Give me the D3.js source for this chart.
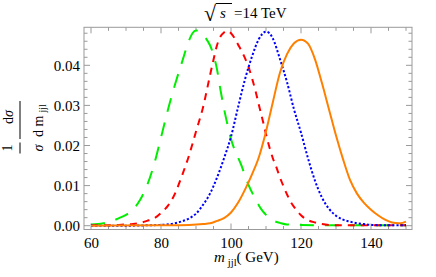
<!DOCTYPE html>
<html><head><meta charset="utf-8">
<script src="https://cdn.jsdelivr.net/npm/d3@7"></script>
<style>
html,body{margin:0;padding:0;background:#fff;}
svg{display:block;}
</style></head>
<body>
<svg id="chart" width="436" height="277"></svg>
<script>
// ---- data ----
const xGreen = [60,62,64,66,68,70,72,74,76,78,80,82,84,86,88,89,90,91,92,93,94,95,96,97,98,99,100,101,102,103,104,105,106,107,108,109,110,112,114,116,120,130,140,150];
const yGreen = [0.0003,0.0004,0.0007,0.0011,0.0019,0.0027,0.0040,0.0064,0.0100,0.0152,0.0220,0.0290,0.0352,0.0408,0.0462,0.0480,0.0487,0.0484,0.0476,0.0465,0.0450,0.0426,0.0390,0.0338,0.0292,0.0252,0.0216,0.0190,0.0170,0.0150,0.0125,0.0102,0.0083,0.0066,0.0050,0.0037,0.0027,0.0013,0.0007,0.0003,0.0002,0.0001,0.0001,0.0001];

const xRed = [60,64,68,70,72,74,76,78,80,82,84,86,88,90,92,94,95,96,97,98,99,100,101,102,103,104,105,106,107,108,109,110,111,112,113,114,115,116,117,118,119,120,122,124,126,128,132,150];
const yRed = [0.0001,0.0001,0.0002,0.0003,0.0004,0.0007,0.0012,0.0018,0.0032,0.0050,0.0080,0.0125,0.0175,0.0235,0.0295,0.0375,0.0414,0.0450,0.0472,0.0482,0.0486,0.0480,0.0468,0.0452,0.0436,0.0418,0.0396,0.0368,0.0336,0.0300,0.0265,0.0228,0.0195,0.0167,0.0145,0.0120,0.0098,0.0078,0.0060,0.0047,0.0036,0.0026,0.0014,0.0008,0.0004,0.0002,0.0001,0.0001];

const xBlue = [60,70,76,80,84,86,88,90,92,94,96,98,100,102,104,106,108,110,111,112,114,116,118,120,122,124,126,128,130,132,134,136,138,140,145,150];
const yBlue = [0.0000,0.0000,0.0001,0.0002,0.0006,0.0011,0.0018,0.0030,0.0052,0.0080,0.0120,0.0168,0.0222,0.0295,0.0365,0.0422,0.0466,0.0484,0.0480,0.0466,0.0415,0.0358,0.0290,0.0232,0.0168,0.0112,0.0070,0.0042,0.0025,0.0015,0.0010,0.0006,0.0004,0.0002,0.0001,0.0001];

const xOrange = [60,80,88,92,94,96,98,100,102,104,106,108,110,112,114,116,118,120,122,124,126,128,130,132,134,136,138,140,142,144,146,148,149,150];
const yOrange = [0.0000,0.0001,0.0002,0.0004,0.0006,0.0012,0.0019,0.0033,0.0057,0.0090,0.0128,0.0172,0.0235,0.0310,0.0382,0.0428,0.0455,0.0464,0.0454,0.0415,0.0355,0.0290,0.0225,0.0166,0.0114,0.0080,0.0057,0.0040,0.0026,0.0015,0.0008,0.0006,0.0007,0.0010];

const xTicks = [60,80,100,120,140];
const yTicks = [0.00,0.01,0.02,0.03,0.04];
const yTickLabels = ["0.00","0.01","0.02","0.03","0.04"];

const seriesColors = ["#00ee00","#ff0000","#0000ff","#ff8000"];
const seriesDash = ["14,11","7,6","2.2,2","none"];

// ---- layout ----
const FONT = '"Liberation Serif", "Times New Roman", serif';
const L = 84, R = 412, T = 27.3, B = 229.5;
const x = d3.scaleLinear().domain([58, 151.71]).range([L, R]);
const y = d3.scaleLinear().domain([-0.00095, 0.04948]).range([B, T]);

const svg = d3.select("#chart");
const frameColor = "#9a9a9a";

svg.append("defs").append("clipPath").attr("id","clip")
  .append("rect").attr("x",L).attr("y",T).attr("width",R-L).attr("height",B-T);

// ticks
const minorX = d3.range(60, 151, 5);
const minorY = d3.range(0, 0.0495, 0.002);
const tg = svg.append("g").attr("stroke", frameColor).attr("stroke-width", 1);
minorX.forEach(v => {
  const major = xTicks.includes(v);
  const len = major ? 6 : 3.5;
  tg.append("line").attr("x1", x(v)).attr("x2", x(v)).attr("y1", B).attr("y2", B - len);
  tg.append("line").attr("x1", x(v)).attr("x2", x(v)).attr("y1", T).attr("y2", T + len);
});
minorY.forEach(v => {
  const major = yTicks.some(t => Math.abs(t - v) < 1e-9);
  const len = major ? 6 : 3.5;
  tg.append("line").attr("y1", y(v)).attr("y2", y(v)).attr("x1", L).attr("x2", L + len);
  tg.append("line").attr("y1", y(v)).attr("y2", y(v)).attr("x1", R).attr("x2", R - len);
});

// frame
svg.append("rect").attr("x",L).attr("y",T).attr("width",R-L).attr("height",B-T)
  .attr("fill","none").attr("stroke",frameColor).attr("stroke-width",1);

// tick labels via axes (no lines)
const xAxis = d3.axisBottom(x).tickValues(xTicks).tickSize(0).tickPadding(0).tickFormat(d3.format("d"));
const gx = svg.append("g").attr("transform",`translate(0,${B})`).call(xAxis);
gx.select(".domain").remove();
gx.selectAll("text").attr("font-size",15).style("font-family",FONT).attr("dy",null).attr("y",18.5).attr("fill","#000");

const yAxis = d3.axisLeft(y).tickValues(yTicks).tickSize(0).tickPadding(0).tickFormat((d,i)=>yTickLabels[i]);
const gy = svg.append("g").attr("transform",`translate(${L-4},0)`).call(yAxis);
gy.select(".domain").remove();
gy.selectAll("text").attr("font-size",15).style("font-family",FONT).attr("dy","0.34em").attr("fill","#000");

// curves
const lineGen = d3.line().x(d=>x(d[0])).y(d=>y(d[1])).curve(d3.curveMonotoneX);
const allSeries = [d3.zip(xGreen,yGreen), d3.zip(xRed,yRed), d3.zip(xBlue,yBlue), d3.zip(xOrange,yOrange)];
const cg = svg.append("g").attr("clip-path","url(#clip)");
allSeries.forEach((s,i)=>{
  cg.append("path").attr("d", lineGen(s)).attr("fill","none")
    .attr("stroke", seriesColors[i]).attr("stroke-width", 2)
    .attr("stroke-dasharray", seriesDash[i]);
});

function txt(parent){ return parent.append("text").style("font-family",FONT).attr("fill","#000"); }

// title: sqrt(s) = 14 TeV
const title = svg.append("g");
txt(title).attr("x",204).attr("y",21).attr("font-size",22).text("√");
title.append("line").attr("x1",216).attr("x2",232).attr("y1",3.5).attr("y2",3.5).attr("stroke","#000").attr("stroke-width",1);
txt(title).attr("x",220).attr("y",18).attr("font-size",15).attr("font-style","italic").text("s");
txt(title).attr("x",234).attr("y",18).attr("font-size",15).text("=14");
txt(title).attr("x",261).attr("y",18).attr("font-size",15).text("TeV");

// x label
const xl = txt(svg).attr("x",214).attr("y",262).attr("font-size",15);
xl.append("tspan").attr("font-style","italic").text("m");
xl.append("tspan").attr("font-size",10.5).attr("dy",4).attr("dx",3).text("jjl");
xl.append("tspan").attr("dy",-4).text("( GeV)");

// y label (rotated)
const yl = svg.append("g").attr("transform","rotate(-90)");
txt(yl).attr("x",-148).attr("y",12).attr("text-anchor","middle").attr("font-size",14).text("1");
yl.append("line").attr("x1",-153.5).attr("x2",-142.5).attr("y1",20).attr("y2",20).attr("stroke","#000").attr("stroke-width",1);
txt(yl).attr("x",-148).attr("y",43).attr("text-anchor","middle").attr("font-size",14).attr("font-style","italic").text("σ");

const num = txt(yl).attr("x",-117).attr("y",13).attr("text-anchor","middle").attr("font-size",14);
num.append("tspan").text("d");
num.append("tspan").attr("font-style","italic").text("σ");
yl.append("line").attr("x1",-139).attr("x2",-101).attr("y1",20).attr("y2",20).attr("stroke","#000").attr("stroke-width",1);
const den = txt(yl).attr("x",-137).attr("y",43).attr("font-size",14);
den.append("tspan").text("d m");
den.append("tspan").attr("font-size",10).attr("dy",3).attr("dx",3).text("jjl");
</script>
</body></html>
